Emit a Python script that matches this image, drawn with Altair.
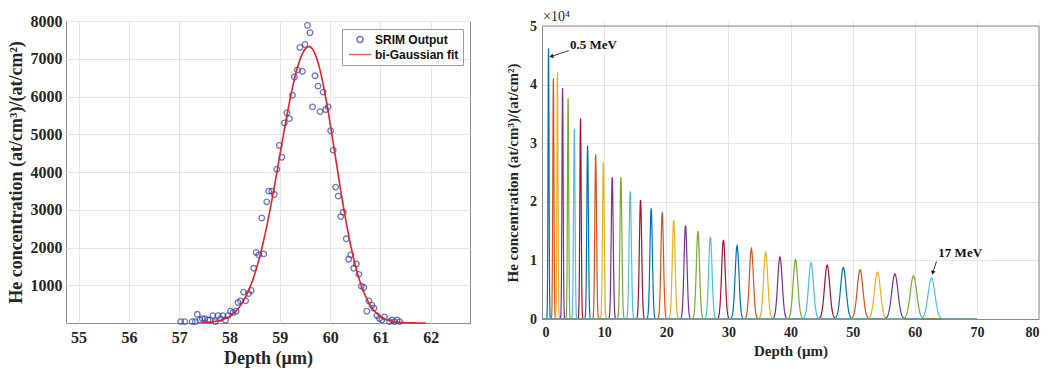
import math
import altair as alt
import numpy as np
import pandas as pd

# ---------------- data: left panel (single energy, SRIM output + fit) ----------------
srim_depth = [57.03, 57.11, 57.26, 57.32, 57.36, 57.41, 57.46, 57.51, 57.57, 57.61,
              57.67, 57.72, 57.77, 57.82, 57.87, 57.92, 57.97,
              58.02, 58.07, 58.13, 58.17, 58.22, 58.28, 58.32, 58.38, 58.43, 58.48,
              58.53, 58.58, 58.64, 58.68, 58.74, 58.78, 58.84, 58.89, 58.94, 58.99,
              59.04, 59.09, 59.14, 59.19, 59.25, 59.29, 59.35, 59.40, 59.45, 59.50,
              59.55, 59.60, 59.65, 59.70, 59.76, 59.80, 59.86, 59.91, 59.96, 60.01,
              60.06, 60.11, 60.16, 60.21, 60.26, 60.32, 60.37, 60.41, 60.47, 60.52,
              60.57, 60.62, 60.67, 60.73, 60.77, 60.83, 60.87, 60.93, 60.98, 61.03,
              61.08, 61.18, 61.23, 61.28, 61.33, 61.38]
srim_conc = [36, 36, 36, 36, 231, 80, 116, 116, 80, 80,
             196, 36, 196, 116, 196, 80, 196,
             311, 276, 311, 542, 587, 818, 587, 782, 862, 1449,
             1867, 1804, 2782, 1831, 3209, 3493, 3493, 3404, 4071, 4702,
             4391, 5298, 5564, 5413, 6036, 6516, 6702, 7298, 6667, 7378,
             7884, 7689, 5724, 6551, 6276, 5600, 6116, 5653, 5724, 5093,
             4578, 3600, 3360, 2818, 2933, 2231, 1689, 1804, 1449, 1564,
             1289, 978, 942, 311, 587, 471, 391, 196, 116, 80,
             160, 36, 80, 36, 80, 36]

# bi-Gaussian fit parameters
fit_amp = 7320
fit_mu = 59.58
fit_sig_left = 0.58
fit_sig_right = 0.52
fit_start, fit_end = 57.45, 61.90

legend_names = ["SRIM Output", "bi-Gaussian fit"]
x_ticks_left = [55, 56, 57, 58, 59, 60, 61, 62]
y_ticks_left = [1000, 2000, 3000, 4000, 5000, 6000, 7000, 8000]

# ---------------- data: right panel (0.5 - 17 MeV) ----------------
energies = [0.5, 1.0, 1.5, 2.0, 2.5, 3.0, 3.5, 4.0, 4.5, 5.0, 5.5, 6.0, 6.5, 7.0,
            7.5, 8.0, 8.5, 9.0, 9.5, 10.0, 10.5, 11.0, 11.5, 12.0, 12.5, 13.0,
            13.5, 14.0, 14.5, 15.0, 15.5, 16.0, 16.5, 17.0]
peak_depth = [1.05, 1.83, 2.49, 3.31, 4.2, 5.2, 6.2, 7.34, 8.64, 9.88, 11.3, 12.7,
              14.2, 15.86, 17.57, 19.35, 21.2, 23.1, 25.1, 27.1, 29.2, 31.4, 33.7,
              36.0, 38.3, 40.8, 43.3, 45.9, 48.5, 51.2, 54.0, 56.8, 59.8, 62.7]
peak_height = [46200, 41100, 42200, 39400, 37700, 32500, 34200, 29600, 28100, 26800,
               24200, 24200, 21800, 20300, 18900, 18200, 16900, 16000, 15000, 14000,
               13500, 12500, 12000, 11400, 10600, 10100, 9600, 9200, 8800, 8400,
               8000, 7700, 7400, 7000]
peak_sigma = [0.083, 0.094, 0.091, 0.098, 0.10, 0.12, 0.11, 0.13, 0.14, 0.14, 0.16,
              0.16, 0.18, 0.19, 0.20, 0.21, 0.23, 0.24, 0.26, 0.27, 0.29, 0.31, 0.32,
              0.34, 0.36, 0.38, 0.40, 0.42, 0.44, 0.46, 0.48, 0.50, 0.52, 0.55]
profile_end = 70.0
matlab_colors = ["#0072BD", "#D95319", "#EDB120", "#7E2F8E", "#77AC30", "#4DBEEE", "#A2142F"]

x_ticks_right = [0, 10, 20, 30, 40, 50, 60, 70, 80]
y_ticks_right = [0, 5000, 10000, 15000, 20000, 25000, 30000, 35000, 40000, 45000, 50000]

annot_text = ["0.5 MeV", "17 MeV"]
annot_x = [4.5, 63.8]
annot_y = [46700, 11300]
arrow_x1 = [4.3, 63.5]
arrow_y1 = [45800, 9850]
arrow_x2 = [1.5, 62.9]
arrow_y2 = [44800, 7880]

# ---------------- layout / style ----------------
SERIF = "Liberation Serif"
SANS = "Liberation Sans"
GRID = "#E6E6E6"
FRAME = "#8C8C8C"
TXT = "#262626"

left_w, left_h = 404, 302
right_w, right_h = 497, 298
right_gap = 5

# ---------------- left chart ----------------
df_srim = pd.DataFrame({"depth": srim_depth, "conc": srim_conc, "series": legend_names[0]})
fx = np.linspace(fit_start, fit_end, 300)
fy = np.where(fx < fit_mu,
              fit_amp * np.exp(-0.5 * ((fx - fit_mu) / fit_sig_left) ** 2),
              fit_amp * np.exp(-0.5 * ((fx - fit_mu) / fit_sig_right) ** 2))
df_fit = pd.DataFrame({"depth": fx, "conc": fy})

xl = alt.X("depth:Q",
           scale=alt.Scale(domain=[54.75, 62.78], nice=False, zero=False),
           axis=alt.Axis(values=x_ticks_left, title="Depth (µm)", grid=True, gridColor=GRID,
                         domain=False, ticks=False, tickSize=0, labelPadding=6,
                         labelFont=SERIF, labelFontWeight="bold", labelFontSize=16,
                         labelColor=TXT, titleFont=SERIF, titleFontWeight="bold",
                         titleFontSize=18, titleColor=TXT, titlePadding=4))
yl = alt.Y("conc:Q",
           scale=alt.Scale(domain=[0, 8000], nice=False),
           axis=alt.Axis(values=y_ticks_left, format="d", title="He concentration (at/cm³)/(at/cm²)",
                         grid=True, gridColor=GRID, domain=False, ticks=False, tickSize=0,
                         labelPadding=4, labelFont=SERIF, labelFontWeight="bold",
                         labelFontSize=16, labelColor=TXT, titleFont=SERIF,
                         titleFontWeight="bold", titleFontSize=18, titleColor=TXT,
                         titlePadding=5))

leg = alt.Legend(title=None, orient="none", legendX=276, legendY=8,
                 labelFont=SANS, labelFontWeight="bold", labelFontSize=12, labelColor="#111",
                 fillColor="white", strokeColor="#9A9A9A", padding=4, rowPadding=2,
                 symbolSize=121, symbolStrokeWidth=1.5, symbolOffset=7.5, labelOffset=8.5,
                 labelLimit=300)
circle_path = "M0.55,0A0.55,0.55,0,1,1,-0.55,0A0.55,0.55,0,1,1,0.55,0"
long_stroke = "M-2,0L2,0"

pts = alt.Chart(df_srim).mark_point(filled=False, size=104, strokeWidth=1.3).encode(
    x=xl, y=yl,
    color=alt.Color("series:N", scale=alt.Scale(domain=legend_names, range=["#2E40A4", "#E8202A"]),
                    legend=leg),
    shape=alt.Shape("series:N", scale=alt.Scale(domain=legend_names, range=[circle_path, long_stroke]),
                    legend=leg),
)
fit_line = alt.Chart(df_fit).mark_line(color="#E8202A", strokeWidth=1.6).encode(x="depth:Q", y="conc:Q")

left = alt.layer(pts, fit_line).properties(
    width=left_w, height=left_h,
    view=alt.ViewBackground(stroke=FRAME, strokeWidth=1))

# ---------------- right chart ----------------
rows = []
for e, c, h, s in zip(energies, peak_depth, peak_height, peak_sigma):
    xs = [0.0] + [c + s * t for t in np.linspace(-4, 4, 41)] + [profile_end]
    lab = f"{e:g} MeV"
    for x in xs:
        rows.append({"depth": float(x), "conc": float(h * math.exp(-0.5 * ((x - c) / s) ** 2)),
                     "energy": lab})
df_prof = pd.DataFrame(rows)
labels = [f"{e:g} MeV" for e in energies]
cols = [matlab_colors[i % len(matlab_colors)] for i in range(len(labels))]

xr = alt.X("depth:Q", scale=alt.Scale(domain=[0, 80], nice=False),
           axis=alt.Axis(values=x_ticks_right, title="Depth (µm)", grid=True, gridColor=GRID,
                         domain=True, domainColor=FRAME, ticks=False, tickSize=0,
                         labelPadding=6, labelFont=SERIF, labelFontWeight="bold",
                         labelFontSize=14, labelColor=TXT, titleFont=SERIF,
                         titleFontWeight="bold", titleFontSize=15, titleColor=TXT,
                         titlePadding=4))
yr = alt.Y("conc:Q", scale=alt.Scale(domain=[0, 50000], nice=False, range=[right_h, right_gap]),
           axis=alt.Axis(values=y_ticks_right, labelExpr="datum.value / 10000",
                         title="He concentration (at/cm³)/(at/cm²)", grid=True, gridColor=GRID,
                         domain=True, domainColor=FRAME, ticks=False, tickSize=0,
                         labelPadding=5.5, labelFont=SERIF, labelFontWeight="bold",
                         labelFontSize=14, labelColor=TXT, titleFont=SERIF,
                         titleFontWeight="bold", titleFontSize=15, titleColor=TXT,
                         titlePadding=9))

lines = alt.Chart(df_prof).mark_line(strokeWidth=1.2).encode(
    x=xr, y=yr,
    color=alt.Color("energy:N", scale=alt.Scale(domain=labels, range=cols), legend=None),
    detail="energy:N",
)

frame_df = pd.DataFrame({"depth": [0, 80], "depth2": [80, 80], "conc": [50000, 0], "conc2": [50000, 50000]})
frame = alt.Chart(frame_df).mark_rule(color=FRAME, strokeWidth=1).encode(
    x="depth:Q", x2="depth2:Q", y="conc:Q", y2="conc2:Q")

ann_df = pd.DataFrame({"depth": annot_x, "conc": annot_y, "text": annot_text})
ann = alt.Chart(ann_df).mark_text(font=SERIF, fontWeight="bold", fontSize=13, align="left",
                                  baseline="middle", color="#111").encode(
    x="depth:Q", y="conc:Q", text="text:N")

px_x = right_w / 80.0
px_y = (right_h - right_gap) / 50000.0
angles = []
for x1, y1, x2, y2 in zip(arrow_x1, arrow_y1, arrow_x2, arrow_y2):
    dx = (x2 - x1) * px_x
    dy = -(y2 - y1) * px_y
    angles.append(math.degrees(math.atan2(dx, -dy)) % 360)
arr_df = pd.DataFrame({"depth": arrow_x1, "conc": arrow_y1, "depth2": arrow_x2,
                       "conc2": arrow_y2, "angle": angles})
arr = alt.Chart(arr_df).mark_rule(color="#222", strokeWidth=0.9).encode(
    x="depth:Q", y="conc:Q", x2="depth2:Q", y2="conc2:Q")
heads = alt.Chart(arr_df).mark_point(shape="triangle-up", filled=True, color="#222", size=22,
                                     opacity=1).encode(
    x=alt.X("depth2:Q"), y=alt.Y("conc2:Q"), angle=alt.Angle("angle:Q", scale=None))

exp_df = pd.DataFrame({"depth": [0], "conc": [50000], "text": ["×10⁴"]})
exp_txt = alt.Chart(exp_df).mark_text(font=SERIF, fontSize=14, align="left", baseline="bottom",
                                      dx=1, dy=-2, color=TXT).encode(
    x="depth:Q", y="conc:Q", text="text:N")

right = alt.layer(lines, frame, arr, heads, ann, exp_txt).properties(
    width=right_w, height=right_h,
    view=alt.ViewBackground(stroke="transparent"))

chart = alt.hconcat(left, right, spacing=72, bounds="flush").resolve_scale(
    color="independent", shape="independent"
).properties(
    padding={"left": 6, "top": 9, "right": 2, "bottom": 0}
).configure(background="white")

chart.save("out.html", embed_options={"renderer": "svg", "actions": False})
